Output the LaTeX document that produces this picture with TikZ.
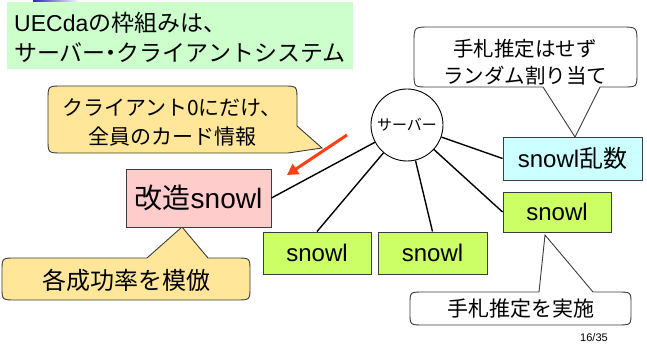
\documentclass[tikz,border=0pt]{standalone}
\usepackage{fontspec}
\setmainfont{Liberation Sans}
\newfontfamily\jp{Noto Sans CJK JP}
\usetikzlibrary{arrows.meta}
\definecolor{titlegreen}{RGB}{204,255,204}
\definecolor{calloutyellow}{RGB}{255,230,153}
\definecolor{pinkbox}{RGB}{255,204,204}
\definecolor{limebox}{RGB}{204,255,102}
\definecolor{cyanbox}{RGB}{204,255,255}
\definecolor{arrowred}{RGB}{255,64,20}
\definecolor{edgegray}{RGB}{60,60,60}
\definecolor{topblue}{RGB}{40,40,200}
\begin{document}
\begin{tikzpicture}[x=1pt,y=-1pt,
  box/.style={draw=edgegray, line width=0.9pt, inner sep=0pt},
  snowlbox/.style={box, fill=limebox, font=\fontsize{24}{24}\selectfont},
  link/.style={draw=black, line width=1.4pt},
  callout/.style={draw=edgegray, line width=0.9pt},
  ctext/.style={inner sep=0pt, align=center},
  redarrow/.style={draw=arrowred, line width=3pt, -{Triangle[length=11pt,width=12pt]}},
]
\useasboundingbox (0,0) rectangle (647,347);

% title
\fill[titlegreen] (7,2) rectangle (353,69);
\shade[left color=topblue, right color=white] (33,0) rectangle (80,1.5);
\node[anchor=west, inner sep=0pt, align=left, font=\fontsize{23}{30}\selectfont] (title) at (14,37)
  {UECda{\jp の枠組みは、}\\{\jp サーバー\kern-6pt・\kern-6ptクライアントシステム}};

% callout: client 0
\draw[callout, fill=calloutyellow]
  (62,86) -- (283,86) .. controls (297,86) .. (297,100) -- (297,126) -- (322,148) -- (288,153)
  -- (62,153) .. controls (48,153) .. (48,139) -- (48,100) .. controls (48,86) .. (62,86) -- cycle;
\node[ctext, font=\jp\fontsize{21}{29}\selectfont] (c1) at (172,122) {クライアント0にだけ、\\全員のカード情報};

% callout: random
\draw[callout, fill=white]
  (430,27) -- (621,27) .. controls (637,27) .. (637,43) -- (637,73) .. controls (637,87) .. (623,87)
  -- (600,87) -- (575,137) -- (543,87)
  -- (428,87) .. controls (414,87) .. (414,73) -- (414,43) .. controls (414,27) .. (430,27) -- cycle;
\node[ctext, font=\jp\fontsize{20.5}{27}\selectfont] (c2) at (525,62) {手札推定はせず\\ランダム割り当て};

% callout: estimation
\draw[callout, fill=white]
  (424,292) -- (539,292) -- (545,235) -- (593,292) -- (617,292) .. controls (631,292) .. (631,304)
  -- (631,313) .. controls (631,325) .. (617,325) -- (424,325) .. controls (410,325) .. (410,313)
  -- (410,304) .. controls (410,292) .. (424,292) -- cycle;
\node[ctext, font=\jp\fontsize{21}{21}\selectfont] (c3) at (521,309) {手札推定を実施};

% callout: imitation
\draw[callout, fill=calloutyellow]
  (16,258) -- (147,258) -- (182,227) -- (208,258) -- (236,258) .. controls (250,258) .. (250,271)
  -- (250,287) .. controls (250,300) .. (236,300) -- (16,300) .. controls (2,300) .. (2,287)
  -- (2,271) .. controls (2,258) .. (16,258) -- cycle;
\node[ctext, font=\jp\fontsize{24}{24}\selectfont] (c4) at (126,280) {各成功率を模倣};

% server and clients
\node[draw=black, line width=0.9pt, circle, minimum size=72pt, inner sep=0pt, fill=white,
      font=\jp\fontsize{15}{15}\selectfont] (server) at (407,125) {サーバー};
\node[box, fill=pinkbox, minimum width=145pt, minimum height=58pt, font=\fontsize{28}{28}\selectfont]
  (mod) at (198.5,198) {{\jp 改造}snowl};
\node[snowlbox, minimum width=108pt, minimum height=42pt] (s1) at (317,253) {snowl};
\node[snowlbox, minimum width=109pt, minimum height=42pt] (s2) at (432.5,253) {snowl};
\node[snowlbox, minimum width=108pt, minimum height=40pt] (s3) at (557,212) {snowl};
\node[box, fill=cyanbox, minimum width=139pt, minimum height=43pt, font=\fontsize{24}{24}\selectfont]
  (rnd) at (572.5,158.5) {snowl{\jp 乱数}};

\draw[link] (server) -- (mod.east);
\draw[link] (server) -- (s1.north);
\draw[link] (server) -- (s2.north);
\draw[link] (server) -- (s3.west);
\draw[link] (server) -- (rnd.west);

% red arrow
\coordinate (ra) at (347,135);
\coordinate (rb) at (287,175);
\draw[redarrow] (ra) -- (rb);

% page number
\node[inner sep=0pt, font=\fontsize{11}{11}\selectfont] (page) at (594,338) {16/35};
\end{tikzpicture}
\end{document}
